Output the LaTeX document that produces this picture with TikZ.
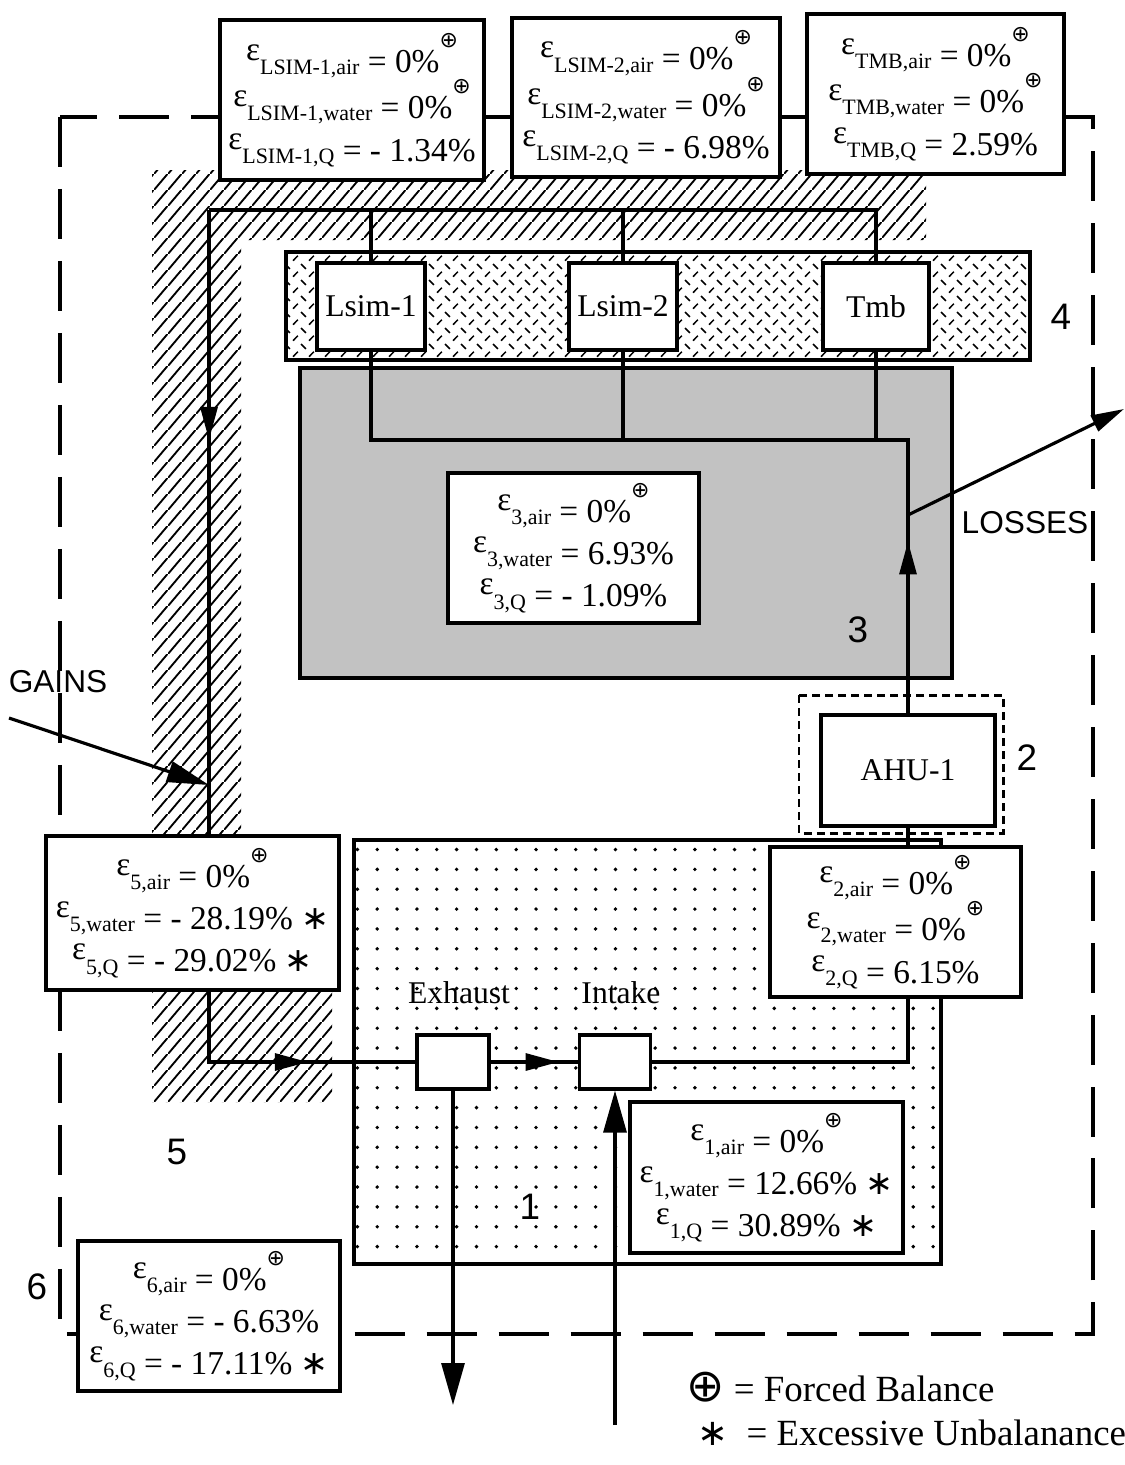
\documentclass[tikz,border=0pt]{standalone}
\usepackage{fontspec}
\setmainfont{Liberation Serif}
\newfontfamily\sansf{Liberation Sans}
\newfontfamily\symf{DejaVu Sans}
\usetikzlibrary{arrows.meta, decorations.markings, patterns}

% fill patterns of the zones
\pgfdeclarepatternformonly{wallhatch}{\pgfqpoint{0pt}{0pt}}{\pgfqpoint{8pt}{9pt}}{\pgfqpoint{8pt}{9pt}}{%
  \pgfsetlinewidth{1.1pt}%
  \pgfpathmoveto{\pgfqpoint{-1pt}{-1.125pt}}\pgfpathlineto{\pgfqpoint{9pt}{10.125pt}}%
  \pgfusepath{stroke}}
\pgfdeclarepatternformonly{roofticks}{\pgfqpoint{0pt}{0pt}}{\pgfqpoint{9pt}{9pt}}{\pgfqpoint{9pt}{9pt}}{%
  \pgfsetlinewidth{0.9pt}%
  \pgfpathmoveto{\pgfqpoint{0.6pt}{8pt}}\pgfpathlineto{\pgfqpoint{3.4pt}{5.2pt}}%
  \pgfpathmoveto{\pgfqpoint{5.2pt}{0.8pt}}\pgfpathlineto{\pgfqpoint{8pt}{3.6pt}}%
  \pgfusepath{stroke}}
\pgfdeclarepatternformonly{sparsedots}{\pgfqpoint{-1.5pt}{-1.5pt}}{\pgfqpoint{1.5pt}{1.5pt}}{\pgfqpoint{11.3pt}{11.3pt}}{%
  \pgfpathcircle{\pgfqpoint{0pt}{0pt}}{1.1pt}\pgfusepath{fill}}

% balance error with subscript, forced balance, excessive unbalance
\newcommand{\epsl}[1]{\raisebox{0.36em}{ε}{\fontsize{12.5}{12.5}\selectfont\raisebox{-1.2pt}{#1}}\ =\ }
\newcommand{\fbal}{\raisebox{0.75em}{\fontsize{12.5}{12.5}\selectfont\symf ⊕}}
\newcommand{\xunb}{\ {\symf ∗}}

\tikzset{
  envelope/.style={line width=1.8pt, dash pattern=on 1cm off 0.44cm},
  ahuzone/.style={line width=1.7pt, dash pattern=on 0.16cm off 0.1cm},
  zoneline/.style={line width=1.8pt},
  pipe/.style={line width=1.8pt},
  flowmark/.style={postaction={decorate, decoration={markings,
      mark=at position #1 with {\arrow{Triangle[length=0.66cm,width=0.34cm]}}}}},
  unit/.style={draw, line width=1.8pt, fill=white, inner sep=0pt, font=\fontsize{18}{20}\selectfont},
  ebox/.style={draw, line width=1.8pt, fill=white, inner sep=0pt, align=center,
      font=\fontsize{19}{24}\selectfont},
  lbl/.style={inner sep=0pt, font=\fontsize{18}{20}\selectfont},
  zonelbl/.style={inner sep=0pt, font=\sansf\fontsize{21}{24}\selectfont},
  flowlbl/.style={inner sep=0pt, font=\sansf\fontsize{18}{20}\selectfont},
  legend/.style={inner sep=0pt, anchor=west, font=\fontsize{21}{24}\selectfont}
}

\begin{document}
\begin{tikzpicture}[x=0.02cm, y=-0.02cm]
    \fill[white] (0,0) rectangle (1125,1465);
    \useasboundingbox (0,0) rectangle (1125,1465);

    % zone 6: whole envelope
    \draw[envelope] (60,117) rectangle (1093,1334);
    % zone 5: hatched band round the top and left
    \fill[pattern=wallhatch] (152,170) -- (926,170) -- (926,240) -- (241,240) -- (241,990)
        -- (332,990) -- (332,1102) -- (152,1102) -- cycle;
    % zones 4, 3, 1 and 2
    \draw[zoneline, pattern=roofticks] (286,252) rectangle (1030,360);
    \draw[zoneline, fill=black!24] (300,368) rectangle (952,678);
    \draw[zoneline, pattern=sparsedots] (354,840) rectangle (941,1264);
    \draw[ahuzone] (799,695) rectangle (1003,833);

    % units
    \node[unit, minimum width=2.16cm, minimum height=1.74cm] (lsim1) at (371,306.5) {Lsim-1};
    \node[unit, minimum width=2.16cm, minimum height=1.74cm] (lsim2) at (623,306.5) {Lsim-2};
    \node[unit, minimum width=2.12cm, minimum height=1.74cm] (tmb) at (876,306.5) {Tmb};
    \node[unit, minimum width=3.48cm, minimum height=2.22cm] (ahu) at (908,770.5) {AHU-1};
    \node[unit, minimum width=1.44cm, minimum height=1.08cm] (exh) at (453,1062) {};
    \node[unit, minimum width=1.42cm, minimum height=1.08cm] (intk) at (615,1062) {};
    \node[lbl] (exhlbl) at (459,993) {Exhaust};
    \node[lbl] (intklbl) at (621,993) {Intake};

    % duct network
    \coordinate (tl) at (209,210);
    \coordinate (rt) at (908,440);
    \draw[pipe] (lsim1.north) -- (lsim1.north |- tl);
    \draw[pipe] (lsim2.north) -- (lsim2.north |- tl);
    \draw[pipe] (tmb.north) |- (tl);
    \draw[pipe, flowmark=4.6cm, flowmark=19.02cm] (tl) -- (tl |- exh.west) -- (exh.west);
    \draw[pipe, flowmark=1.36cm] (exh.east) -- (intk.west);
    \draw[pipe] (intk.east) -| (ahu.south);
    \draw[pipe, flowmark=3.44cm] (ahu.north) |- (lsim1.south |- rt) -- (lsim1.south);
    \draw[pipe] (lsim2.south) -- (lsim2.south |- rt);
    \draw[pipe] (tmb.south) -- (tmb.south |- rt);

    % outside air in and out
    \coordinate (exout) at (453,1405);
    \coordinate (inin) at (615,1425);
    \draw[pipe, -{Triangle[length=0.84cm,width=0.46cm]}] (exh.south) -- (exout);
    \draw[pipe, -{Triangle[length=0.84cm,width=0.46cm]}] (inin) -- (intk.south);

    % gains and losses
    \coordinate (gsrc) at (9,718);
    \coordinate (gtip) at (209,785);
    \coordinate (lsrc) at (908,515);
    \coordinate (ltip) at (1124,409);
    \draw[pipe, -{Triangle[length=0.84cm,width=0.42cm]}] (gsrc) -- (gtip);
    \draw[pipe, -{Triangle[length=0.66cm,width=0.34cm]}] (lsrc) -- (ltip);
    \node[flowlbl] (gains) at (58,682) {GAINS};
    \node[flowlbl] (losses) at (1025,523) {LOSSES};

    % balance errors
    \node[ebox, minimum width=5.28cm, minimum height=3.2cm] (eL1) at (352,100)
        {\epsl{LSIM-1,air}0\%\fbal\\ \epsl{LSIM-1,water}0\%\fbal\\ \epsl{LSIM-1,Q}- 1.34\%};
    \node[ebox, minimum width=5.36cm, minimum height=3.18cm] (eL2) at (646,97.5)
        {\epsl{LSIM-2,air}0\%\fbal\\ \epsl{LSIM-2,water}0\%\fbal\\ \epsl{LSIM-2,Q}- 6.98\%};
    \node[ebox, minimum width=5.14cm, minimum height=3.2cm] (eTMB) at (935.5,94)
        {\epsl{TMB,air}0\%\fbal\\ \epsl{TMB,water}0\%\fbal\\ \epsl{TMB,Q}2.59\%};
    \node[ebox, minimum width=5.02cm, minimum height=3cm] (e3) at (573.5,548)
        {\epsl{3,air}0\%\fbal\\ \epsl{3,water}6.93\%\\ \epsl{3,Q}- 1.09\%};
    \node[ebox, minimum width=5.02cm, minimum height=3cm] (e2) at (895.5,922)
        {\epsl{2,air}0\%\fbal\\ \epsl{2,water}0\%\fbal\\ \epsl{2,Q}6.15\%};
    \node[ebox, minimum width=5.86cm, minimum height=3.08cm] (e5) at (192.5,913)
        {\epsl{5,air}0\%\fbal\\ \epsl{5,water}- 28.19\%\xunb\\ \epsl{5,Q}- 29.02\%\xunb};
    \node[ebox, minimum width=5.46cm, minimum height=3.02cm] (e1) at (766.5,1177.5)
        {\epsl{1,air}0\%\fbal\\ \epsl{1,water}12.66\%\xunb\\ \epsl{1,Q}30.89\%\xunb};
    \node[ebox, minimum width=5.24cm, minimum height=3cm] (e6) at (209,1316)
        {\epsl{6,air}0\%\fbal\\ \epsl{6,water}- 6.63\%\\ \epsl{6,Q}- 17.11\%\xunb};

    % zone numbers
    \node[zonelbl] (z1) at (530,1207) {1};
    \node[zonelbl] (z2) at (1027,758) {2};
    \node[zonelbl] (z3) at (858,630) {3};
    \node[zonelbl] (z4) at (1061,317) {4};
    \node[zonelbl] (z5) at (177,1152) {5};
    \node[zonelbl] (z6) at (37,1287) {6};

    % legend
    \node[legend] (lgfb) at (686,1387) {{\symf\fontsize{26}{26}\selectfont ⊕} = Forced Balance};
    \node[legend] (lgxu) at (697,1433) {{\symf ∗}\enspace= Excessive Unbalanance};
\end{tikzpicture}
\end{document}
